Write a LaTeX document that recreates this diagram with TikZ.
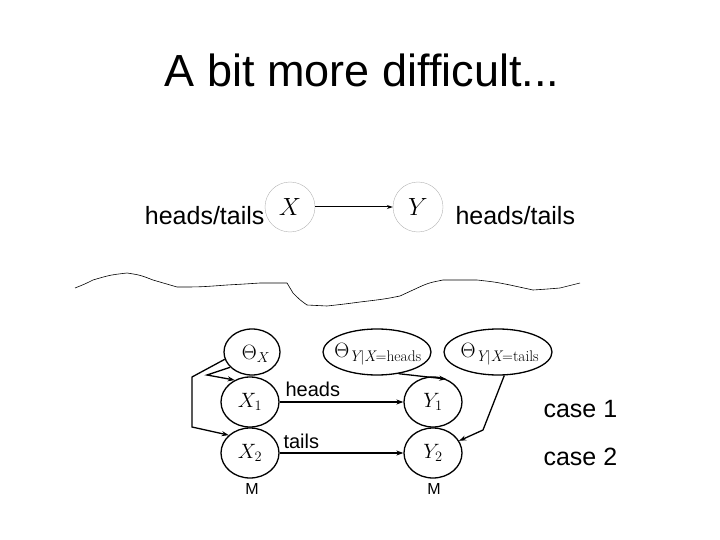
\documentclass[tikz,border=0pt]{standalone}
\usepackage{fontspec}
\setsansfont{Liberation Sans}
\usetikzlibrary{arrows.meta,shapes.geometric}
\begin{document}
\begin{tikzpicture}[x=1pt,y=-1pt,
  lbl/.style={font=\sffamily\fontsize{20}{22}\selectfont},
  big/.style={font=\sffamily\fontsize{25}{28}\selectfont},
  ell/.style={draw,ellipse,line width=1.3pt,inner sep=0pt},
  cir/.style={draw=gray!60,circle,minimum size=50pt,inner sep=0pt},
  arr/.style={line width=1.3pt,-{Stealth[length=7pt,width=5pt]}},
  mth/.style={font=\fontsize{20}{22}\selectfont}]
\useasboundingbox (0,0) rectangle (720,540);
\node[font=\sffamily\fontsize{45}{50}\selectfont] (title) at (362,70) {A bit more difficult...};
\node[cir,font=\fontsize{28}{30}\selectfont] (X) at (290,207) {$X$};
\node[cir,font=\fontsize{28}{30}\selectfont] (Y) at (418,207) {$Y$};
\draw[line width=1pt,-{Stealth[length=6pt,width=4pt]}] (X) -- (Y);
\node[big,anchor=east] (ht1) at (268,216) {heads/tails};
\node[big,anchor=west] (ht2) at (452,216) {heads/tails};
\draw[line width=0.6pt] (75,288) .. controls (85,284) .. (93,280) .. controls (110,275) .. (127,273) .. controls (140,275) .. (153,280) .. controls (165,284) .. (177,287) .. controls (200,287) .. (227,285) .. controls (245,284) .. (260,283) -- (287,283) .. controls (290,288) .. (293,293) .. controls (300,300) .. (307,305) -- (327,306) .. controls (345,304) .. (360,302) .. controls (385,299) .. (400,296) .. controls (407,293) .. (413,290) .. controls (428,283) .. (443,280) -- (477,280) .. controls (495,282) .. (510,285) .. controls (522,288) .. (533,290) .. controls (548,289) .. (560,288) .. controls (570,285) .. (580,283);
\node[ell,minimum width=56pt,minimum height=46pt] (tx) at (252,352) {};
\node[font=\fontsize{22}{24}\selectfont] (txl) at (256,354) {$\Theta_{X}$};
\node[ell,minimum width=108pt,minimum height=46pt] (th) at (377,352) {};
\node[font=\fontsize{22}{24}\selectfont] (thl) at (378,354) {$\Theta_{\mathit{Y}|\mathit{X}=\mathrm{heads}}$};
\node[ell,minimum width=108pt,minimum height=46pt] (tt) at (498,352) {};
\node[font=\fontsize{22}{24}\selectfont] (ttl) at (500,354) {$\Theta_{\mathit{Y}|\mathit{X}=\mathrm{tails}}$};
\node[ell,minimum width=58pt,minimum height=50pt,mth] (X1) at (250,402) {$X_1$};
\node[ell,minimum width=58pt,minimum height=50pt,mth] (X2) at (250,453) {$X_2$};
\node[ell,minimum width=58pt,minimum height=50pt,mth] (Y1) at (433,402) {$Y_1$};
\node[ell,minimum width=58pt,minimum height=50pt,mth] (Y2) at (433,453) {$Y_2$};
\draw[arr] (X1) -- (Y1);
\draw[arr] (X2) -- (Y2);
\node[lbl,anchor=west] (hl) at (282,389) {heads};
\node[lbl,anchor=west] (tl) at (280,441) {tails};
\coordinate (a1) at (192,377); \coordinate (a2) at (192,427);
\draw[arr] (tx.195) -- (a1) -- (a2) -- (X2.140);
\coordinate (b1) at (207,375);
\draw[arr] (tx.215) -- (b1) -- (X1.125);
\draw[arr] (th.-45) -- (Y1.60);
\coordinate (c1) at (483,430);
\draw[arr] (tt.-75) -- (c1) -- (Y2.25);
\node[big,anchor=west] (c1l) at (540,409) {case 1};
\node[big,anchor=west] (c2l) at (540,457) {case 2};
\node[font=\sffamily\fontsize{16}{18}\selectfont] (m1) at (252,489) {M};
\node[font=\sffamily\fontsize{16}{18}\selectfont] (m2) at (434,489) {M};
\end{tikzpicture}
\end{document}
